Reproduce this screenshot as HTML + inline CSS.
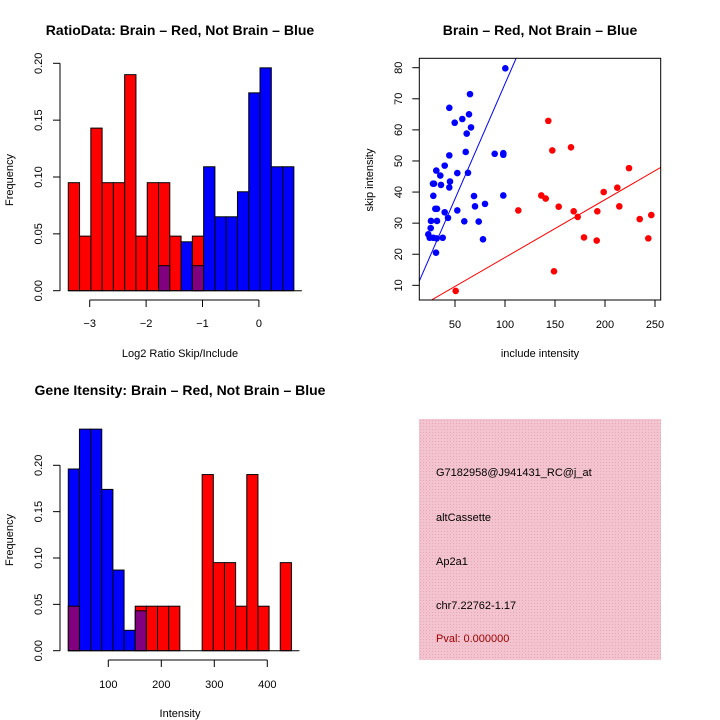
<!DOCTYPE html>
<html><head><meta charset="utf-8"><style>
html,body{margin:0;padding:0;background:#fff;}
svg{display:block;font-family:"Liberation Sans",sans-serif;}
</style></head><body>
<svg id="c" width="720" height="720" xmlns="http://www.w3.org/2000/svg">
<defs>
<pattern id="hatch" width="3" height="3" patternUnits="userSpaceOnUse">
<rect width="3" height="3" fill="#f3c4cf"/><rect width="1" height="1" fill="#e6a8b8"/>
</pattern>
</defs>
<text x="180" y="35" text-anchor="middle" font-size="14" font-weight="bold">RatioData: Brain – Red, Not Brain – Blue</text>
<text x="540" y="35" text-anchor="middle" font-size="14" font-weight="bold">Brain – Red, Not Brain – Blue</text>
<text x="180" y="395" text-anchor="middle" font-size="14" font-weight="bold">Gene Itensity: Brain – Red, Not Brain – Blue</text>
<text x="180" y="357" text-anchor="middle" font-size="11">Log2 Ratio Skip/Include</text>
<text transform="translate(13,180) rotate(-90)" text-anchor="middle" font-size="11">Frequency</text>
<text x="540" y="357" text-anchor="middle" font-size="11">include intensity</text>
<text transform="translate(373,180) rotate(-90)" text-anchor="middle" font-size="11">skip intensity</text>
<text x="180" y="717" text-anchor="middle" font-size="11">Intensity</text>
<text transform="translate(13,540) rotate(-90)" text-anchor="middle" font-size="11">Frequency</text>
<g>
<rect x="419" y="419" width="242" height="241" fill="url(#hatch)"/>
<text x="436" y="476" font-size="11">G7182958@J941431_RC@j_at</text>
<text x="436" y="521" font-size="11">altCassette</text>
<text x="436" y="565" font-size="11">Ap2a1</text>
<text x="436" y="609" font-size="11">chr7.22762-1.17</text>
<text x="436" y="642" font-size="11" fill="#a00000">Pval: 0.000000</text>
</g>
</svg>
<script>
// Ratio histogram data
const ratioBinStart = -3.38, ratioBinWidth = 0.2;
const ratioRed  = [0.095,0.048,0.143,0.095,0.095,0.190,0.048,0.095,0.095,0.048,0,0.048,0,0,0,0,0,0,0,0];
const ratioBlue = [0,0,0,0,0,0,0,0,0.022,0,0.043,0.022,0.109,0.065,0.065,0.087,0.174,0.196,0.109,0.109];
const ratioXTicks = [-3,-2,-1,0];
const ratioXLabels = ["−3","−2","−1","0"];
const ratioYTicks = [0,0.05,0.10,0.15,0.20];
const ratioYLabels = ["0.00","0.05","0.10","0.15","0.20"];
// Intensity histogram data
const intBinStart = 24.5, intBinWidth = 21.05;
const intRed  = [0.048,0,0,0,0,0,0.048,0.048,0.048,0.048,0,0,0.190,0.095,0.095,0.048,0.190,0.048,0,0.095];
const intBlue = [0.196,0.239,0.239,0.174,0.087,0.022,0.043,0,0,0,0,0,0,0,0,0,0,0,0,0];
const intXTicks = [100,200,300,400];
const intYTicks = [0,0.05,0.10,0.15,0.20];
const intYLabels = ["0.00","0.05","0.10","0.15","0.20"];
// Scatter data
const blueX = [100.3,65,44.3,49.7,57.3,64,66,61.7,60.7,44.3,89.7,98.3,98.3,39.7,31.3,35.3,52.3,63,28,29,36,45,44.3,28.3,69,98.3,70,80,30.3,32,39.7,52.3,43,26,32,59.3,73.7,25.7,23.3,24.7,28.3,31.7,37.7,78,31];
const blueY = [79.8,71.5,67.1,62.3,63.5,65,60.8,58.8,52.9,51.8,52.3,52.5,52,48.5,46.9,45.3,46.1,46.2,42.7,42.7,42.3,43.4,41.5,38.8,38.7,38.9,35.4,36.2,34.6,34.6,33.5,34.1,31.7,30.7,30.7,30.6,30.5,28.4,26.4,25.3,25.3,25.1,25.3,24.8,20.5];
const redX = [50.7,113.3,136.3,140.7,143.3,147.3,153.7,149,166,168.7,172.7,179,191.7,192.3,198.7,212.3,214.3,224,234.7,243.3,246.3];
const redY = [8.2,34.1,38.9,37.9,62.9,53.4,35.3,14.5,54.4,33.8,32,25.4,24.4,33.8,40,41.4,35.4,47.7,31.3,25.1,32.6];
const blueFit = [0.74, 0.8];   // slope, intercept
const redFit = [0.186, 0.35];
const scXTicks = [50,100,150,200,250];
const scYTicks = [10,20,30,40,50,60,70,80];

const svg = document.getElementById('c');
const NS = 'http://www.w3.org/2000/svg';
function mk(tag, attrs, parent){ const e=document.createElementNS(NS,tag); for(const k in attrs) e.setAttribute(k,attrs[k]); (parent||svg).appendChild(e); return e; }

function histogram(name, binStart, binW, red, blue, xs, ys, xticks, xlabels, yticks, ylabels, xAxisY, labelOff){
  const g = mk('g',{});
  
  
  for(let i=0;i<red.length;i++){
    const x0 = xs(binStart+i*binW), x1 = xs(binStart+(i+1)*binW);
    const r = red[i], b = blue[i];
    const hi = Math.max(r,b), lo = Math.min(r,b);
    if(hi>0){
      const rc = mk('rect',{x:x0,y:ys(hi),width:x1-x0,height:ys(0)-ys(hi),fill:r>=b?'#ff0000':'#0000ff',stroke:'#000','stroke-width':1},g);
      
      
    }
    if(lo>0){
      const pc = mk('rect',{x:x0,y:ys(lo),width:x1-x0,height:ys(0)-ys(lo),fill:'#800080',stroke:'#000','stroke-width':1},g);
      
      
    }
  }
  mk('line',{x1:xs(binStart),x2:xs(binStart+red.length*binW)+8,y1:ys(0),y2:ys(0),stroke:'#000'},g);
  const ya = mk('g',{},g);
  
  
  mk('line',{x1:60,x2:60,y1:ys(yticks[0]),y2:ys(yticks[yticks.length-1]),stroke:'#000'},ya);
  yticks.forEach((t,i)=>{
    mk('line',{x1:53,x2:60,y1:ys(t),y2:ys(t),stroke:'#000'},ya);
    const tx = mk('text',{transform:`translate(42,${ys(t)}) rotate(-90)`,'text-anchor':'middle','font-size':11},ya);
    tx.textContent = ylabels[i];
  });
  const xa = mk('g',{},g);
  
  
  mk('line',{x1:xs(xticks[0]),x2:xs(xticks[xticks.length-1]),y1:xAxisY,y2:xAxisY,stroke:'#000'},xa);
  xticks.forEach((t,i)=>{
    mk('line',{x1:xs(t),x2:xs(t),y1:xAxisY,y2:xAxisY+7,stroke:'#000'},xa);
    const tx = mk('text',{x:xs(t),y:xAxisY+labelOff,'text-anchor':'middle','font-size':11},xa);
    tx.textContent = xlabels[i];
  });
}

const rxs = v => 89.7 + (v+3)*56.4;
const rys = v => 290.7 - v/0.2*227.4;
histogram('ratio-histogram', ratioBinStart, ratioBinWidth, ratioRed, ratioBlue, rxs, rys, ratioXTicks, ratioXLabels, ratioYTicks, ratioYLabels, 300, 27);

const ixs = v => 108.3 + (v-100)*0.53;
const iys = v => 650.7 - v/0.2*185.4;
histogram('intensity-histogram', intBinStart, intBinWidth, intRed, intBlue, ixs, iys, intXTicks, intXTicks.map(String), intYTicks, intYLabels, 660, 28);

const sxs = v => 455 + (v-50)*1.0;
const sys = v => 67.7 + (80-v)*3.109;
const L=419.3,R=660.7,T=58.3,B=300;
const sg = mk('g',{});


const clip = mk('clipPath',{id:'scClip'},sg);
mk('rect',{x:L,y:T,width:R-L,height:B-T},clip);
function fitLine(fit,color,name){
  const xa=14.3, xb=255.7;
  const ln = mk('line',{x1:sxs(xa),y1:sys(fit[0]*xa+fit[1]),x2:sxs(xb),y2:sys(fit[0]*xb+fit[1]),stroke:color,'stroke-width':1,'clip-path':'url(#scClip)'},sg);
  
  
}
fitLine(blueFit,'#0000ff','blue-fit-line');
fitLine(redFit,'#ff0000','red-fit-line');
blueX.forEach((x,i)=>{
  const p = mk('circle',{cx:sxs(x),cy:sys(blueY[i]),r:3.3,fill:'#0000ff'},sg);
  
  
});
redX.forEach((x,i)=>{
  const p = mk('circle',{cx:sxs(x),cy:sys(redY[i]),r:3.3,fill:'#ff0000'},sg);
  
  
});
const frame = mk('rect',{x:L,y:T,width:R-L,height:B-T,fill:'none',stroke:'#000'},sg);


scXTicks.forEach(t=>{
  mk('line',{x1:sxs(t),x2:sxs(t),y1:B,y2:B+7,stroke:'#000'},sg);
  const tx = mk('text',{x:sxs(t),y:B+28,'text-anchor':'middle','font-size':11},sg);
  
  
  tx.textContent = t;
});
scYTicks.forEach(t=>{
  mk('line',{x1:L-7,x2:L,y1:sys(t),y2:sys(t),stroke:'#000'},sg);
  const tx = mk('text',{transform:`translate(402,${sys(t)}) rotate(-90)`,'text-anchor':'middle','font-size':11},sg);
  
  
  tx.textContent = t;
});
</script>
</body></html>
